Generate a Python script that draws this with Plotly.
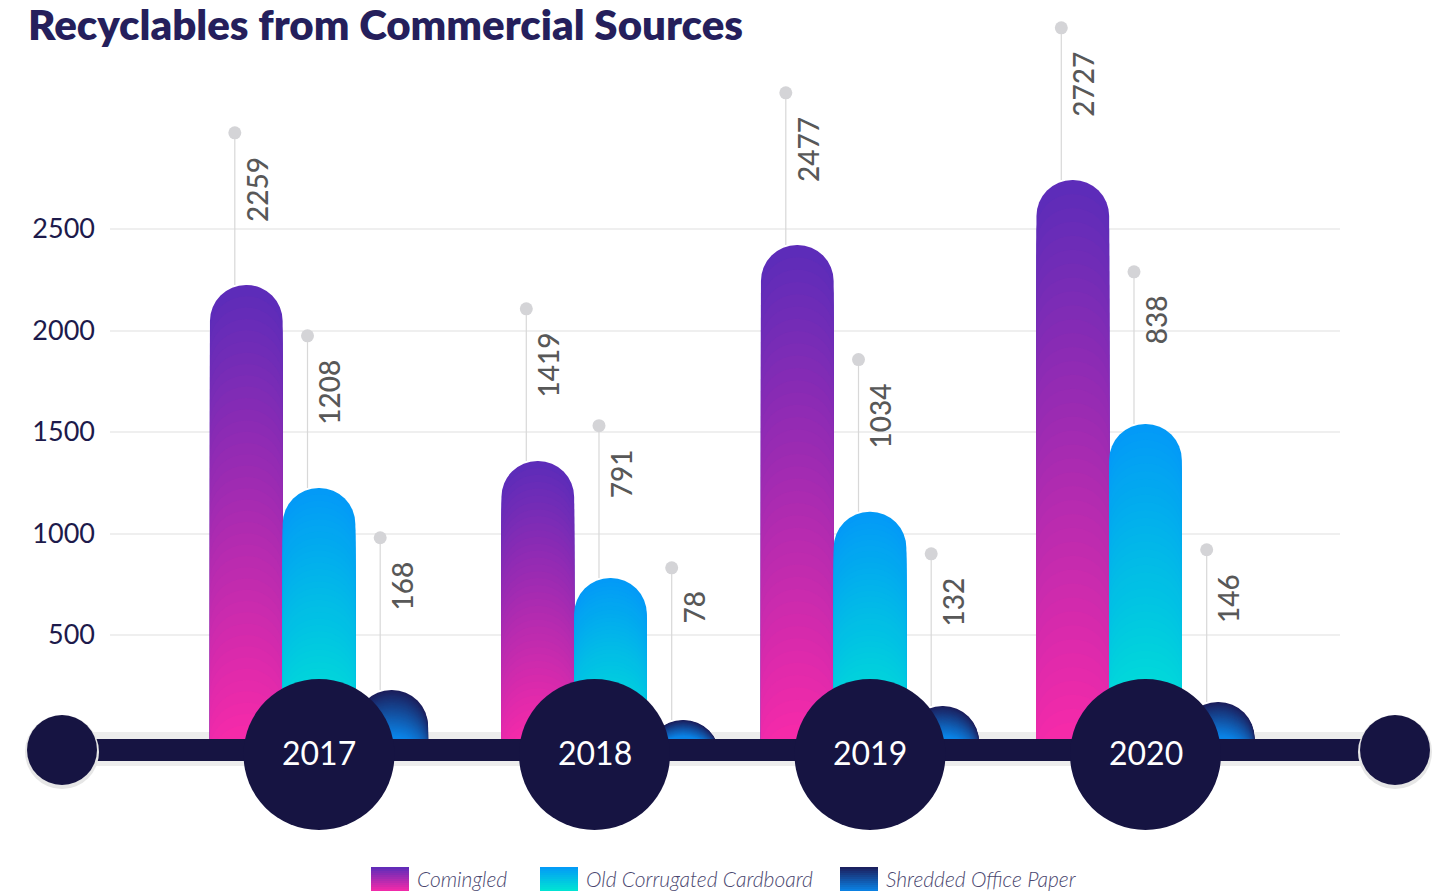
import plotly.graph_objects as go

# ---- data ----
years = ["2017", "2018", "2019", "2020"]
series = ["Comingled", "Old Corrugated Cardboard", "Shredded Office Paper"]

# bar heights as drawn
comingled = [2224, 1357, 2421, 2741]
cardboard = [1224, 781, 1107, 1539]
shredded = [229, 81, 150, 170]

# values printed next to the bars
comingled_text = [2259, 1419, 2477, 2727]
cardboard_text = [1208, 791, 1034, 838]
shredded_text = [168, 78, 132, 146]

y_ticks = [500, 1000, 1500, 2000, 2500]

values = [comingled, cardboard, shredded]
texts = [comingled_text, cardboard_text, shredded_text]

# ---- styling / layout ----
top_colors = ["#5b2cb9", "#0399f7", "#1c1d5a"]
bottom_colors = ["#f72aa9", "#00e6d3", "#0a84e8"]
navy = "#161442"

W, H = 1433, 891
L, R, T, B = 110, 93, 10, 46
PX_PER_X = 275.5          # pixels between two years
FIRST_X_PX = 319
ZERO_PX = 736.5
PX_PER_UNIT = 0.203

x_range = [(L - FIRST_X_PX) / PX_PER_X, (W - R - FIRST_X_PX) / PX_PER_X]
y_range = [-(H - B - ZERO_PX) / PX_PER_UNIT, (ZERO_PX - T) / PX_PER_UNIT]

group_x = [0, 1, 2, 3]
group_shift = [0, 16 / PX_PER_X, 0, 0]
bw = 72.7 / PX_PER_X
dot_dx = -11.5 / PX_PER_X
DOT_RISE = 750
BAR_BASE = -420           # bars start well under the timeline (masked there)
N = 40


def px_x(p):
    return (p - L) / (W - L - R)


def px_y(p):
    return (H - B - p) / (H - T - B)


def mix(c1, c2, t):
    a = [int(c1[i:i + 2], 16) for i in (1, 3, 5)]
    b = [int(c2[i:i + 2], 16) for i in (1, 3, 5)]
    return "rgb(%d,%d,%d)" % tuple(round(a[j] + (b[j] - a[j]) * t) for j in range(3))


fig = go.Figure()

# gradient bars: stacked capsules, lower-topped ones drawn on top
for s, vals in enumerate(values):
    xs = [g + sh for g, sh in zip(group_x, group_shift)]
    for k in range(N):
        f = (N - k) / N
        fig.add_trace(go.Bar(
            x=xs, y=[v * f - BAR_BASE for v in vals], base=BAR_BASE,
            width=bw, offset=(s - 1.5) * bw,
            marker=dict(color=mix(top_colors[s], bottom_colors[s], (k + 0.5) / N),
                        cornerradius="50%", line_width=0, opacity=1),
            showlegend=False, hoverinfo="skip"))

# leader lines and dots
annotations = []
for s, vals in enumerate(values):
    lx, ly, dx, dy = [], [], [], []
    for g in range(len(years)):
        cx = group_x[g] + group_shift[g] + (s - 1) * bw + dot_dx
        lx += [cx, cx, None]
        ly += [vals[g], vals[g] + DOT_RISE, None]
        dx.append(cx)
        dy.append(vals[g] + DOT_RISE)
        annotations.append(dict(
            x=cx, y=vals[g] + DOT_RISE, xref="x", yref="y",
            text=str(texts[s][g]), textangle=-90, showarrow=False,
            xanchor="center", yanchor="top", xshift=22, yshift=-22,
            font=dict(family="Lato", size=28, weight=500, color="#585858")))
    fig.add_trace(go.Scatter(x=lx, y=ly, mode="lines",
                             line=dict(color="#d8d8d8", width=1.2),
                             showlegend=False, hoverinfo="skip", cliponaxis=False))
    fig.add_trace(go.Scatter(x=dx, y=dy, mode="markers",
                             marker=dict(size=13, color="#d4d4d7"),
                             showlegend=False, hoverinfo="skip", cliponaxis=False))

shapes = []
# upper shadow of the timeline sits under the bars
shapes.append(dict(type="rect", xref="paper", yref="paper",
                   x0=px_x(62), x1=px_x(1395), y0=px_y(740), y1=px_y(732),
                   fillcolor="#ededed", line_width=0, layer="below"))
# white mask hiding the bar feet below the timeline
shapes.append(dict(type="rect", xref="paper", yref="paper",
                   x0=0, x1=1, y0=0, y1=px_y(760),
                   fillcolor="white", line_width=0, layer="above"))
shapes.append(dict(type="rect", xref="paper", yref="paper",
                   x0=px_x(62), x1=px_x(1395), y0=px_y(766), y1=px_y(755),
                   fillcolor="#ededed", line_width=0, layer="above"))
shapes.append(dict(type="rect", xref="paper", yref="paper",
                   x0=px_x(62), x1=px_x(1395), y0=px_y(761), y1=px_y(739),
                   fillcolor=navy, line_width=0, layer="above"))
for cx in (62, 1395):
    shapes.append(dict(type="circle", xref="paper", yref="paper",
                       xsizemode="pixel", ysizemode="pixel",
                       xanchor=px_x(cx), yanchor=px_y(752),
                       x0=-37, x1=37, y0=-37, y1=37,
                       fillcolor="#e6e6e6", line_width=0, layer="above"))
    shapes.append(dict(type="circle", xref="paper", yref="paper",
                       xsizemode="pixel", ysizemode="pixel",
                       xanchor=px_x(cx), yanchor=px_y(750),
                       x0=-35, x1=35, y0=-35, y1=35,
                       fillcolor=navy, line_width=0, layer="above"))

# year circles
for g, yr in enumerate(years):
    shapes.append(dict(type="circle", xref="x", yref="y",
                       xsizemode="pixel", ysizemode="pixel",
                       xanchor=group_x[g], yanchor=0,
                       x0=-75.5, x1=75.5, y0=-93.5, y1=57.5,
                       fillcolor=navy, line_width=0, layer="above"))
    annotations.append(dict(x=group_x[g], y=0, xref="x", yref="y", text=yr,
                            showarrow=False, yshift=-16,
                            font=dict(family="Lato", size=32, color="white")))

# custom legend with gradient swatches
legend_x = [371, 540, 840]
for s, name in enumerate(series):
    steps = 12
    for k in range(steps):
        y_top = 867 + 24 * k / steps
        shapes.append(dict(type="rect", xref="paper", yref="paper",
                           x0=px_x(legend_x[s]), x1=px_x(legend_x[s] + 38),
                           y0=px_y(y_top + 24 / steps + 0.3), y1=px_y(y_top),
                           fillcolor=mix(top_colors[s], bottom_colors[s], (k + 0.5) / steps),
                           line_width=0))
    annotations.append(dict(x=px_x(legend_x[s] + 44), y=px_y(878), xref="paper", yref="paper",
                            text=name, showarrow=False, xanchor="left", yanchor="middle",
                            font=dict(family="Lato", size=21, color="#4b4870",
                                      style="italic", weight=300)))

fig.update_layout(
    width=W, height=H,
    margin=dict(l=L, r=R, t=T, b=B),
    barmode="overlay",
    showlegend=False,
    paper_bgcolor="white",
    plot_bgcolor="white",
    title=dict(text="Recyclables from Commercial Sources",
               x=28 / W, xref="container", xanchor="left",
               y=1 - 25 / H, yref="container", yanchor="middle",
               font=dict(family="Lato", size=42, weight=800, color="#251f5c")),
    shapes=shapes,
    annotations=annotations,
)
fig.update_xaxes(range=x_range, showticklabels=False, showgrid=False,
                 zeroline=False, showline=False)
fig.update_yaxes(range=y_range, tickvals=y_ticks, showgrid=True,
                 gridcolor="#efefef", gridwidth=2, zeroline=False, showline=False,
                 ticklabelstandoff=14,
                 tickfont=dict(family="Lato", size=27, color="#1d1a4b"))

fig.write_html("out.html", config={"displayModeBar": False},
               post_script="document.body.style.margin='0';")
